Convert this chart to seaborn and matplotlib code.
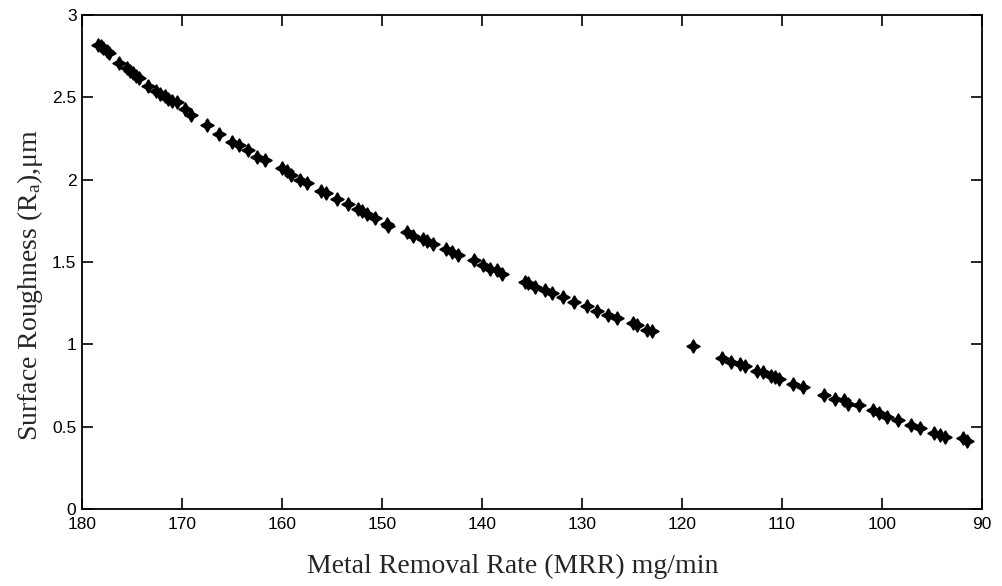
import numpy as np
import pandas as pd
import matplotlib
matplotlib.use("Agg")
import matplotlib.pyplot as plt
import seaborn as sns

# values
mrr = [178.4, 178.1, 177.9, 177.5, 177.3, 176.3, 175.5, 175.2, 174.9, 174.6,
       174.3, 173.4, 172.6, 172.2, 171.7, 171.4, 171.0, 170.5, 169.7, 169.1,
       167.5, 166.3, 165.0, 164.3, 163.4, 162.5, 161.7, 160.0, 159.5, 159.1,
       158.2, 157.5, 156.1, 155.6, 154.5, 153.4, 152.4, 152.0, 151.5, 150.7,
       149.5, 149.4, 147.5, 146.9, 145.9, 145.5, 144.9, 143.6, 143.0, 142.4,
       140.8, 139.9, 139.2, 138.5, 138.0, 135.7, 135.4, 134.7, 133.7, 133.0,
       131.9, 130.8, 129.5, 128.5, 127.4, 126.5, 124.9, 124.5, 123.5, 123.0,
       118.9, 116.0, 115.1, 114.2, 113.7, 112.5, 111.9, 111.1, 110.7, 110.3,
       108.9, 107.9, 105.8, 104.7, 103.8, 103.4, 102.3, 100.9, 100.3, 99.5,
       98.4, 97.1, 96.2, 94.8, 94.2, 93.7, 91.9, 91.5]
ra = [2.82, 2.81, 2.80, 2.78, 2.77, 2.71, 2.68, 2.66, 2.65, 2.63,
      2.62, 2.57, 2.54, 2.52, 2.51, 2.49, 2.48, 2.47, 2.43, 2.39,
      2.33, 2.28, 2.23, 2.21, 2.18, 2.14, 2.12, 2.07, 2.05, 2.03,
      2.00, 1.98, 1.93, 1.92, 1.88, 1.85, 1.82, 1.81, 1.79, 1.77,
      1.73, 1.72, 1.68, 1.66, 1.64, 1.63, 1.61, 1.58, 1.56, 1.54,
      1.51, 1.48, 1.46, 1.45, 1.43, 1.38, 1.37, 1.35, 1.33, 1.31,
      1.29, 1.26, 1.23, 1.20, 1.18, 1.16, 1.13, 1.12, 1.09, 1.08,
      0.99, 0.92, 0.89, 0.88, 0.87, 0.84, 0.83, 0.81, 0.80, 0.79,
      0.76, 0.74, 0.69, 0.67, 0.66, 0.64, 0.63, 0.60, 0.58, 0.56,
      0.54, 0.51, 0.49, 0.46, 0.45, 0.44, 0.43, 0.41]

x_ticks = [180, 170, 160, 150, 140, 130, 120, 110, 100, 90]
y_ticks = [0, 0.5, 1, 1.5, 2, 2.5, 3]
y_tick_labels = ["0", "0.5", "1", "1.5", "2", "2.5", "3"]

df = pd.DataFrame({"MRR": mrr, "Ra": ra})

sns.set_style("ticks")
plt.rcParams["font.family"] = ["Liberation Sans", "DejaVu Sans"]
plt.rcParams["mathtext.default"] = "regular"

fig = plt.figure(figsize=(10.03, 5.86), dpi=100)
ax = fig.add_axes([0.0818, 0.1314, 0.897, 0.843])

sns.scatterplot(data=df, x="MRR", y="Ra", ax=ax, marker=(4, 1, 0), s=80,
                color="black", edgecolor="black", linewidth=1.4)

ax.set_xlim(180, 90)
ax.set_ylim(0, 3)
ax.set_xticks(x_ticks)
ax.set_xticklabels([str(t) for t in x_ticks])
ax.set_yticks(y_ticks)
ax.set_yticklabels(y_tick_labels)
ax.tick_params(direction="in", length=8, width=1.2, top=True, right=True,
               labelsize=12.5, colors="black")
ax.tick_params(axis="x", pad=6)
ax.tick_params(axis="y", pad=4)
for sp in ax.spines.values():
    sp.set_visible(True)
    sp.set_linewidth(1.3)
    sp.set_color("black")

serif = ["Liberation Serif", "DejaVu Serif"]
ax.set_xlabel("Metal Removal Rate (MRR) mg/min", fontsize=20, family=serif)
ax.set_ylabel("Surface Roughness (R$_{a}$),\u03bcm", fontsize=20, family=serif)
ax.xaxis.set_label_coords(0.479, -0.091)
ax.yaxis.set_label_coords(-0.041, 0.453)

fig.savefig("out.png", dpi=100)
